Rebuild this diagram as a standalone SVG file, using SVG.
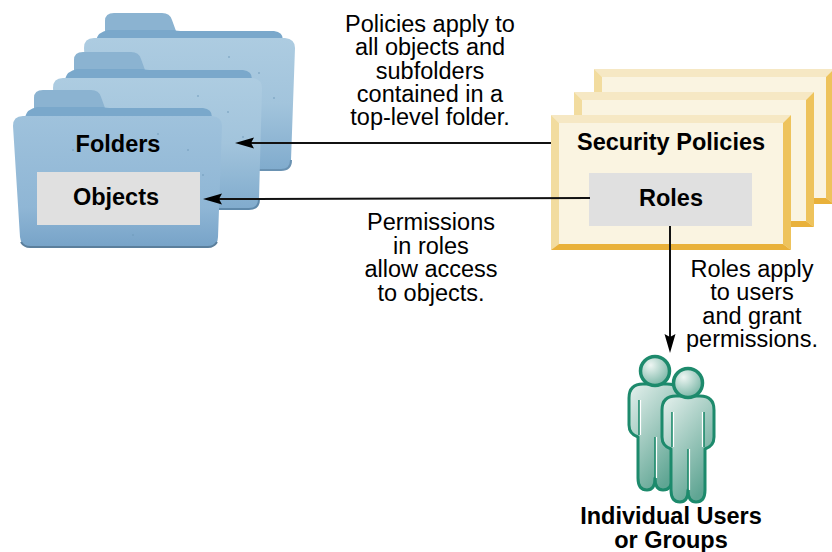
<svg xmlns="http://www.w3.org/2000/svg" width="832" height="552" viewBox="0 0 832 552">
<style>
text{font-family:"Liberation Sans",Arial,sans-serif;fill:#000}
.l{font-size:23.500px;text-anchor:middle}
.b{font-size:23.500px;font-weight:bold;text-anchor:middle}
.c{fill:none;stroke:#111;stroke-width:2}
.ln{fill:#faf4e1}.t{fill:#f6e8c4}.lf{fill:#f2dc9f}.r{fill:#eec35c}.bt{fill:#e9b13a}
.gray{fill:#e0e0e0}
.strip{fill:#7aa8cb}
.tab{fill:#8bb3d1}
.pb{fill:url(#pg);stroke:#1d8a6c;stroke-width:3;stroke-linejoin:round}
.ph{fill:url(#hg);stroke:#1d8a6c;stroke-width:3.500}
.in{fill:none;stroke:#1d8a6c;stroke-width:1.600}
.hi{fill:none;stroke:#fff;stroke-width:1.200}
.sp{fill:#6f98b8}
</style>
<defs>
<linearGradient id="fm" x1="0" y1="0" x2="0" y2="1"><stop offset="0" stop-color="#9fc2dc"/><stop offset=".7" stop-color="#8fb6d5"/><stop offset="1" stop-color="#77a3c8"/></linearGradient>
<linearGradient id="fl" x1="0" y1="0" x2="0" y2="1"><stop offset="0" stop-color="#adcce1"/><stop offset=".5" stop-color="#a2c4dc"/><stop offset="1" stop-color="#80abcd"/></linearGradient>
<linearGradient id="pg" x1="0" y1="0" x2=".6" y2="1"><stop offset="0" stop-color="#e6f1ee"/><stop offset="1" stop-color="#5fa593"/></linearGradient>
<radialGradient id="hg" cx=".35" cy=".3" r=".8"><stop offset="0" stop-color="#eef6f3"/><stop offset="1" stop-color="#6fb09f"/></radialGradient>
<g id="tabs">
<path class="tab" d="M21 18V8Q21 0 30 0H78Q86 0 88 7L92 18Z"/>
<path class="strip" d="M12 27Q14 19 24 17H90Q92 18 100 18H190Q199 19 199 27V32H12Z"/>
</g>
<g id="spk">
<circle class="sp" cx="60" cy="60" r=".8"/><circle class="sp" cx="145" cy="44" r=".8"/><circle class="sp" cx="190" cy="85" r=".8"/><circle class="sp" cx="30" cy="110" r=".8"/><circle class="sp" cx="120" cy="145" r=".8"/><circle class="sp" cx="175" cy="60" r=".8"/>
</g>
<g id="sheet">
<rect width="240" height="135" class="ln"/>
<path class="t" d="M0 0H240L232 8H8Z"/>
<path class="lf" d="M0 0L8 8V129L0 135Z"/>
<path class="r" d="M240 0V135L232 129V8Z"/>
<path class="bt" d="M0 135L8 129H232L240 135Z"/>
</g>
<g id="person">
<path class="pb" d="M-12 13H12Q26 13 26 27V54Q26 63 17 66V107Q17 119 8 119Q0 119 0 107Q0 119-8 119Q-17 119-17 107V66Q-26 63-26 54V27Q-26 13-12 13Z"/>
<path class="in" d="M-16 29V64M16 29V64M0 66V107"/>
<path class="hi" d="M-14.500 29V64M14.500 29V64M1.500 66V107"/>
<circle class="ph" cx="0" cy="0" r="14.500"/>
</g>
</defs>
<g id="folders">
<g id="folder-back">
<use href="#tabs" x="84" y="13"/>
<path d="M84 48Q84 38 94 38H285Q295 39 295 48L291 160Q291 170 281 170H100Q91 170 90 160Z" fill="url(#fl)"/>
<path d="M100 170H281Q291 170 291 160" fill="none" stroke="#6a92b2" stroke-width="2"/>
<use href="#spk" x="84" y="13"/>
</g>
<g id="folder-mid">
<use href="#tabs" x="53" y="52"/>
<path d="M53 88Q53 78 63 78H252Q262 79 262 88L259 199Q259 209 249 209H69Q60 209 59 199Z" fill="url(#fl)"/>
<path d="M69 209H249Q259 209 259 199" fill="none" stroke="#5f89aa" stroke-width="2"/>
<use href="#spk" x="53" y="52"/>
</g>
<g id="folder-front">
<use href="#tabs" x="13" y="90"/>
<path d="M13 126Q13 116 23 116H212Q222 117 222 126L218 237Q218 247 208 247H30Q21 247 20 237Z" fill="url(#fm)"/>
<path d="M21 242Q24 247 30 247H208Q214 247 217 242" fill="none" stroke="#5b7f9c" stroke-width="2"/>
<use href="#spk" x="13" y="90"/>
</g>
<rect x="37" y="172" width="163" height="53" class="gray"/>
<text class="b" x="118" y="152">Folders</text>
<text class="b" x="116" y="205">Objects</text>
</g>
<g id="policies">
<use href="#sheet" x="594" y="69"/>
<use href="#sheet" x="574" y="92"/>
<use href="#sheet" x="551" y="115"/>
<rect x="589" y="173" width="163" height="53" class="gray"/>
<text class="b" x="671" y="150">Security Policies</text>
<text class="b" x="671" y="206">Roles</text>
</g>
<g id="users">
<use href="#person" x="655" y="371"/>
<use href="#person" x="688" y="383"/>
<text class="b" x="671" y="524">Individual Users</text>
<text class="b" x="671" y="548">or Groups</text>
</g>
<g id="connectors">
<path class="c" d="M551 143H248"/><path d="M235 143L254 137.500L251 143L254 148.500Z"/>
<path class="c" d="M590 198L216 199"/><path d="M203 199L222 193.500L219 199L222 204.500Z"/>
<path class="c" d="M670 226V338"/><path d="M670 353L664.500 334L670 337L675.500 334Z"/>
</g>
<g id="labels">
<text class="l" x="430" y="32">Policies apply to</text>
<text class="l" x="430" y="55">all objects and</text>
<text class="l" x="430" y="79">subfolders</text>
<text class="l" x="430" y="102">contained in a</text>
<text class="l" x="430" y="125">top-level folder.</text>
<text class="l" x="431" y="230">Permissions</text>
<text class="l" x="431" y="254">in roles</text>
<text class="l" x="431" y="277">allow access</text>
<text class="l" x="431" y="301">to objects.</text>
<text class="l" x="752" y="277">Roles apply</text>
<text class="l" x="752" y="300">to users</text>
<text class="l" x="752" y="324">and grant</text>
<text class="l" x="752" y="347">permissions.</text>
</g>
</svg>
